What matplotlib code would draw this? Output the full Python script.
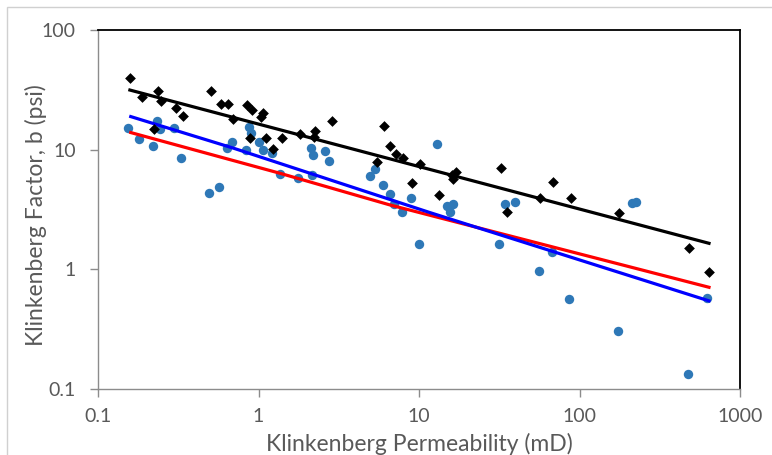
import matplotlib
matplotlib.use("Agg")
import matplotlib.pyplot as plt
from matplotlib.patches import Rectangle

plt.rcParams['font.family'] = ['Lato', 'DejaVu Sans']

# ===== Data =====
# black diamonds
perm_black = [0.158, 0.187, 0.2375, 0.247, 0.224, 0.304, 0.340, 0.506, 0.584, 0.648,
              0.697, 0.844, 0.915, 1.06, 1.03, 0.885, 1.11, 1.24, 1.41, 1.81,
              2.24, 2.21, 2.86, 5.45, 6.03, 6.63, 7.16, 7.98, 9.01, 10.2,
              13.4, 16.0, 17.0, 16.4, 32.4, 35.2, 56.7, 68.7, 88.5, 177,
              483, 638]
b_black = [39.9, 27.4, 31.2, 25.5, 14.8, 22.2, 19.1, 31.1, 23.9, 23.9,
           17.9, 23.4, 21.5, 20.1, 18.8, 12.4, 12.6, 10.2, 12.5, 13.6,
           14.2, 12.8, 17.4, 7.82, 15.7, 10.8, 9.24, 8.58, 5.24, 7.56,
           4.18, 6.15, 6.55, 5.69, 6.99, 3.0, 3.93, 5.40, 3.93, 2.94,
           1.52, 0.946]

# blue circles
perm_blue = [0.1545, 0.181, 0.219, 0.232, 0.243, 0.299, 0.327, 0.494, 0.567, 0.634,
             0.687, 0.836, 0.873, 0.892, 1.01, 1.07, 1.21, 1.37, 1.76, 2.12,
             2.19, 2.59, 2.76, 2.15, 4.93, 5.32, 5.94, 6.57, 6.96, 7.80,
             8.92, 13.0, 10.0, 15.0, 16.4, 15.6, 31.6, 34.4, 39.6, 67.1,
             56.2, 86.4, 224, 212, 623, 174, 476]
b_blue = [15.1, 12.3, 10.7, 17.4, 14.9, 15.1, 8.48, 4.37, 4.85, 10.3,
          11.5, 9.85, 15.4, 13.7, 11.5, 9.94, 9.39, 6.30, 5.77, 10.3,
          9.03, 9.79, 8.09, 6.15, 6.05, 6.94, 5.07, 4.29, 3.54, 3.03,
          3.91, 11.2, 1.63, 3.39, 3.50, 3.03, 1.63, 3.50, 3.68, 1.40,
          0.975, 0.566, 3.64, 3.60, 0.577, 0.307, 0.134]

# trend / model lines
line_black_k = [0.158, 641]
line_black_b = [31.5, 1.65]
line_red_k = [0.16, 1.36, 6.6, 641]
line_red_b = [13.9, 6.35, 3.45, 0.708]
line_blue_k = [0.16, 0.697, 11.7, 641]
line_blue_b = [18.9, 10.3, 2.98, 0.545]

xticks = [0.1, 1, 10, 100, 1000]
xticklabels = ['0.1', '1', '10', '100', '1000']
yticks = [0.1, 1, 10, 100]
yticklabels = ['0.1', '1', '10', '100']

# ===== Plot =====
fig = plt.figure(figsize=(7.72, 4.55), dpi=100)
ax = fig.add_axes([98/772, 1 - 389/455, (740 - 98)/772, (389 - 30)/455])

ax.scatter(perm_blue, b_blue, s=46, color='#2e78b7', zorder=2, linewidths=0)
ax.plot(line_black_k, line_black_b, color='black', lw=2.3, zorder=3)
ax.plot(line_red_k, line_red_b, color='#ff0000', lw=2.3, zorder=3)
ax.plot(line_blue_k, line_blue_b, color='#0000ff', lw=2.3, zorder=3)
ax.scatter(perm_black, b_black, s=30, marker='D', color='black', zorder=4, linewidths=0)

ax.set_xscale('log')
ax.set_yscale('log')
ax.set_xlim(0.1, 1000)
ax.set_ylim(0.1, 100)
ax.set_xticks(xticks)
ax.set_xticklabels(xticklabels)
ax.set_yticks(yticks)
ax.set_yticklabels(yticklabels)
ax.minorticks_off()

gray = '#8c8c8c'
for side in ['left', 'bottom']:
    ax.spines[side].set_color(gray)
    ax.spines[side].set_linewidth(1.0)
for side in ['top', 'right']:
    ax.spines[side].set_color('black')
    ax.spines[side].set_linewidth(1.3)

ax.tick_params(axis='both', direction='out', length=6, width=1.0, color=gray,
               labelcolor='#595959', labelsize=14)
ax.tick_params(axis='x', pad=8)
ax.tick_params(axis='y', pad=10)

ax.set_xlabel('Klinkenberg Permeability (mD)', fontsize=16.5, color='#595959')
ax.set_ylabel('Klinkenberg Factor, b (psi)', fontsize=16.5, color='#595959')
ax.xaxis.set_label_coords(0.5, -0.122)
ax.yaxis.set_label_coords(-0.08, 0.485)

# outer chart border
fig.patches.append(Rectangle((7/772, -0.05), 1.1, 1 - 7/455 + 0.05, transform=fig.transFigure,
                             fill=False, edgecolor='#d0d0d0', lw=1.0))

fig.savefig('out.png', dpi=100)
